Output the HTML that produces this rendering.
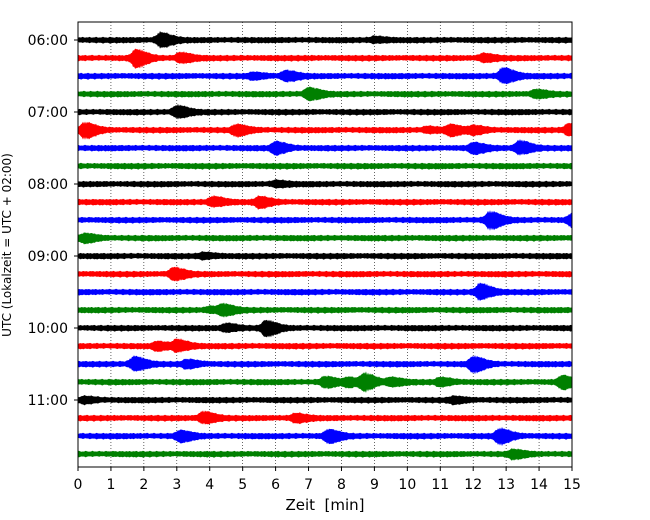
<!DOCTYPE html>
<html><head><meta charset="utf-8"><style>
body{margin:0;background:#fff}
svg{display:block;font-family:"DejaVu Sans","Liberation Sans",sans-serif}
</style></head><body>
<svg id="chart" width="650" height="520" viewBox="0 0 650 520" xmlns="http://www.w3.org/2000/svg">
<rect x="0" y="0" width="650" height="520" fill="#fff"/>
<g id="grid"></g>
<g id="traces"></g>
<rect x="78" y="22" width="494" height="445" fill="none" stroke="#000" stroke-width="1"/>
<g id="axes"></g>
<text x="325" y="510" font-size="15" text-anchor="middle" xml:space="preserve">Zeit  [min]</text>
<text transform="translate(11,245) rotate(-90)" font-size="12" text-anchor="middle">UTC (Lokalzeit = UTC + 02:00)</text>
</svg>
<script>
const xTicks=[0,1,2,3,4,5,6,7,8,9,10,11,12,13,14,15];
const hourLabels=["06:00","07:00","08:00","09:00","10:00","11:00"];
const rowCount=24;
const colors=["#000000","#ff0000","#0000ff","#008000"];
// events: [row, minute, amplitude]
const eventRows=[0,0,1,1,1,2,2,2,3,3,4,5,5,5,5,5,5,6,6,6,8,9,9,10,10,11,12,13,14,15,15,16,16,17,17,18,18,18,19,19,19,19,19,19,20,20,21,21,22,22,22,23];
const eventMinutes=[2.5,9.0,1.75,3.1,12.3,6.3,12.9,5.3,7.0,13.9,3.0,0.2,4.8,11.3,12.0,14.9,10.6,6.0,12.0,13.4,6.0,4.1,5.5,12.5,15.0,0.2,3.8,2.9,12.2,4.4,4.0,5.7,4.5,3.0,2.4,1.7,12.0,3.3,7.5,8.7,11.0,14.7,8.2,9.5,11.4,0.2,3.8,6.6,3.1,7.6,12.8,13.2];
const eventAmps=[6,2,7,4,3,4,7,2,5,3,5,6,4,4,3,5,2,5,4,6,2,4,4,7,5,3,2,5,7,4,2,6,3,5,3,6,6,3,4,7,3,5,3,3,2,2,5,3,4,5,6,3];

const X0=78,X1=572,Y0=40,DY=18;
const xs=m=>X0+(m-xTicks[0])/(xTicks[xTicks.length-1]-xTicks[0])*(X1-X0);
const ys=r=>Y0+r*DY;
const NS="http://www.w3.org/2000/svg";
const grid=document.getElementById('grid'),tr=document.getElementById('traces'),ax=document.getElementById('axes');
function mk(t,a,p){const e=document.createElementNS(NS,t);for(const k in a)e.setAttribute(k,a[k]);p.appendChild(e);return e;}
xTicks.forEach(t=>{
  if(t>xTicks[0]&&t<xTicks[xTicks.length-1]){
    const l=mk('line',{x1:xs(t),x2:xs(t),y1:22,y2:467,stroke:'#000','stroke-width':0.6,'stroke-dasharray':'1,2'},grid);
    
    
  }
  const tk=mk('line',{x1:xs(t),x2:xs(t),y1:467,y2:471,stroke:'#000'},ax);
  
  
  const tx=mk('text',{x:xs(t),y:489,'font-size':14,'text-anchor':'middle'},ax);
  tx.textContent=t;
  
  
});
hourLabels.forEach((h,i)=>{
  const y=ys(i*4);
  const tk=mk('line',{x1:74,x2:78,y1:y,y2:y,stroke:'#000'},ax);
  
  
  const tx=mk('text',{x:68,y:y+5,'font-size':14,'text-anchor':'end'},ax);
  tx.textContent=h;
  
  
});
for(let r=0;r<rowCount;r++){
  const yc=ys(r);const top=[],bot=[];
  for(let px=X0;px<=X1;px+=1){
    const m=(px-X0)/(X1-X0)*15;
    const j=Math.abs(Math.sin(px*2.7+r*1.3)*Math.sin(px*0.93+r*0.7));
    let h=2.3+0.9*j;
    for(let i=0;i<eventRows.length;i++){
      if(eventRows[i]!==r)continue;
      const d=m-eventMinutes[i];
      const w=d<0?0.1:0.3;
      h+=eventAmps[i]*Math.exp(-(d*d)/(2*w*w))*(0.6+0.4*Math.abs(Math.sin(px*1.7+i)));
    }
    const h2=h*(0.85+0.3*Math.abs(Math.sin(px*3.1+r)));
    top.push(px+','+(yc-h).toFixed(1));bot.unshift(px+','+(yc+h2).toFixed(1));
  }
  const p=mk('polygon',{points:top.concat(bot).join(' '),fill:colors[r%4]},tr);
  
  
}
</script>
</body></html>
